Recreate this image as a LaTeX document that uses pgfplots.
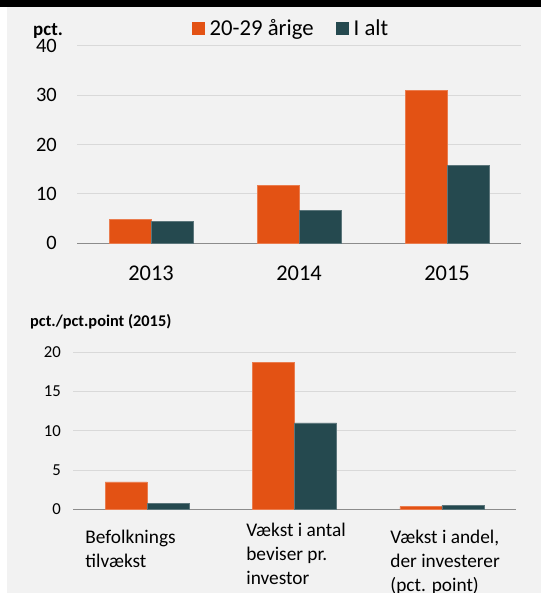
\documentclass[border=0pt]{standalone}
\usepackage{pgfplots}
\pgfplotsset{compat=1.18}
\usepackage{fontspec}
\setmainfont{Carlito}
\definecolor{bgc}{HTML}{F2F2F2}
\definecolor{orng}{HTML}{E35214}
\definecolor{tealc}{HTML}{25494F}
\definecolor{gridc}{HTML}{D9D9D9}
\definecolor{axc}{HTML}{8C8C8C}
\pgfplotsset{
  common/.style={
    scale only axis, enlargelimits=false,
    /pgf/number format/assume math mode=true,
    xmin=-0.5, xmax=2.5, ymin=0,
    ybar=0pt, bar width=42bp,
    major tick length=0pt,
    extra x ticks={-0.5,0.5,1.5,2.5}, extra x tick labels={},
    extra x tick style={major tick length=7bp, tick align=outside, tick style={axc, line width=1bp}},
    axis x line*=bottom, axis y line*=left,
    x axis line style={axc, line width=1bp, -},
    y axis line style={draw=none},
    ymajorgrids, grid style={gridc, line width=1bp},
    tick style={draw=none},
    legend image code/.code={\fill[#1,/tikz/.cd,draw=none] (0bp,-6.5bp) rectangle (13bp,6.5bp);},
  }
}
\begin{document}
\begin{tikzpicture}[x=1bp,y=1bp]
\useasboundingbox (0,0) rectangle (541,593);
\fill[white] (0,0) rectangle (541,593);
\fill[bgc] (7,0) rectangle (541,586);
\fill[black] (0,586) rectangle (541,593);
\node[anchor=base west, inner sep=0, font=\bfseries\fontsize{19}{22}\selectfont] at (33,557) {pct.};
\node[anchor=base west, inner sep=0, font=\bfseries\fontsize{16.4}{20}\selectfont] at (30,266.3) {pct./pct.point (2015)};
\begin{axis}[common,
  at={(77bp,349.7bp)}, anchor=south west,
  width=444bp, height=197.6bp,
  ymax=40, ytick={0,10,20,30,40},
  xtick={0,1,2}, xticklabels={2013,2014,2015},
  yticklabel style={font=\fontsize{20.5}{24}\selectfont, inner xsep=0pt, xshift=-20bp},
  xticklabel style={font=\fontsize{22.5}{26}\selectfont, inner sep=0pt, anchor=north, yshift=-22.7bp},
  legend style={at={(0.259,1.087)}, anchor=west, draw=none, fill=none, inner sep=0pt,
    legend columns=2, font=\fontsize{22.8}{26}\selectfont,
    nodes={inner xsep=4.5bp, inner ysep=0pt},
    /tikz/every even column/.append style={column sep=18bp}},
]
\addplot[fill=orng, draw=orng!75!white, line width=0.6bp] coordinates {(0,4.9) (1,11.7) (2,31.0)};
\addplot[fill=tealc, draw=tealc!75!white, line width=0.6bp] coordinates {(0,4.5) (1,6.6) (2,15.8)};
\legend{20-29 årige, I alt}
\end{axis}
\begin{axis}[common,
  at={(73.3bp,83.7bp)}, anchor=south west,
  width=442.4bp, height=157bp,
  ymax=20, ytick={0,5,10,15,20},
  xtick={-0.419,0.672,1.649},
  xticklabels={{\rule{0pt}{34bp}Befolknings\\tilvækst},{\rule{0pt}{27.4bp}Vækst i antal\\beviser pr.\\investor},{\rule{0pt}{34bp}Vækst i andel,\\der investerer\\(pct. point)}},
  yticklabel style={font=\fontsize{16.8}{20}\selectfont, inner xsep=0pt, xshift=-12.3bp},
  xticklabel style={font=\fontsize{19.4}{24}\selectfont, inner sep=0pt, anchor=north west, align=left},
]
\addplot[fill=orng, draw=orng!75!white, line width=0.6bp] coordinates {(0,3.5) (1,18.7) (2,0.33)};
\addplot[fill=tealc, draw=tealc!75!white, line width=0.6bp] coordinates {(0,0.77) (1,11.0) (2,0.5)};
\end{axis}
\end{tikzpicture}
\end{document}
